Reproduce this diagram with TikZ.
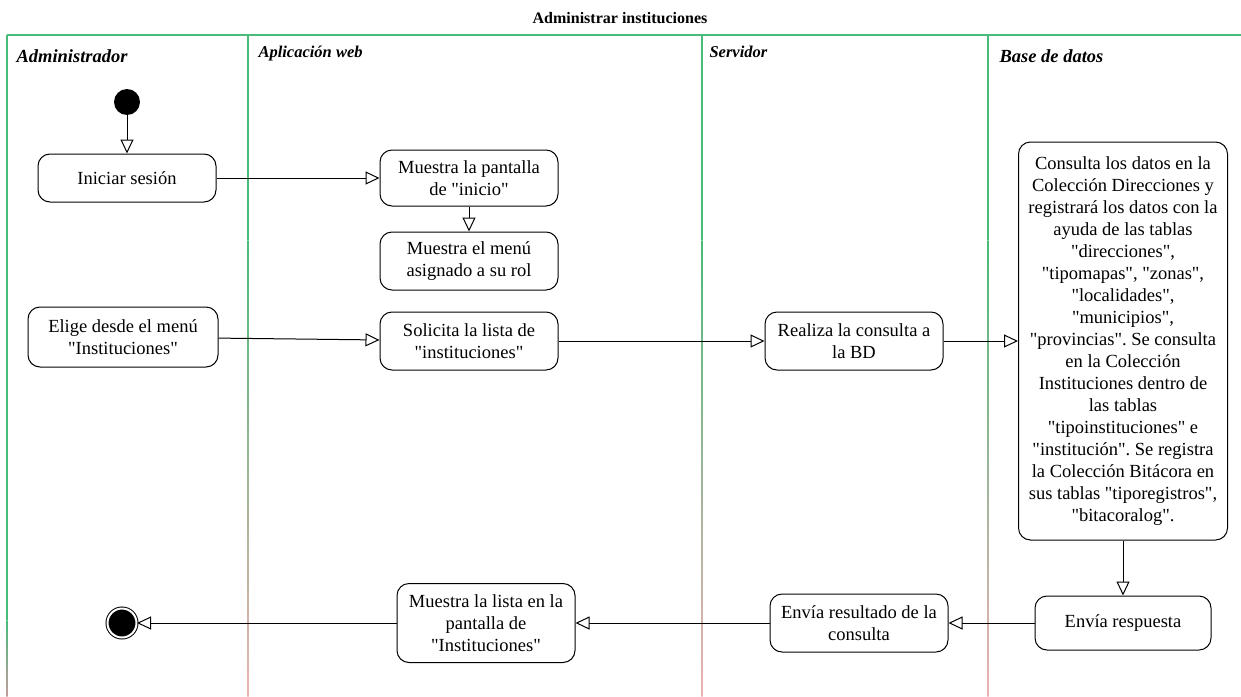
\documentclass[tikz,border=0pt]{standalone}
\usepackage{fontspec}
\setmainfont{Liberation Serif}[Ligatures=TeXOff]
\usetikzlibrary{arrows.meta}
\frenchspacing

\definecolor{lanegreen}{RGB}{72,186,122}
\definecolor{lanepink}{RGB}{236,178,178}

\tikzstyle{activity}=[draw, line width=1pt, rounded corners=12pt, align=center, minimum width=178pt, minimum height=58pt, inner sep=2pt, font=\fontsize{18.5}{22}\selectfont]
\tikzstyle{arrow}=[line width=1pt, -{Triangle[open, length=14pt, width=13pt]}]
\tikzstyle{lanebig}=[anchor=base west, font=\bfseries\itshape\fontsize{18.5}{22}\selectfont]
\tikzstyle{lanesmall}=[anchor=base west, font=\bfseries\itshape\fontsize{16.5}{19}\selectfont]

\begin{document}
\begin{tikzpicture}[x=1pt, y=-1pt]
  \useasboundingbox (0,0) rectangle (1241,696);

  % swimlanes
  \draw[lanegreen, line width=1.5pt] (7,35) -- (1241,35);
  \draw[lanegreen, line width=1.5pt] (7,35) -- (7,620);
  \shade[top color=lanegreen, bottom color=lanepink!60!gray] (6.3,620) rectangle (7.7,696);
  \foreach \x in {248, 702, 988} {
    \draw[lanegreen, line width=1.2pt] (\x,35) -- (\x,240);
    \shade[top color=lanegreen, bottom color=lanepink] (\x-0.6,240) rectangle (\x+0.6,696);
  }

  \node[font=\bfseries\fontsize{16}{19}\selectfont] (title) at (620,18) {Administrar instituciones};
  \node[lanebig] (admin) at (13,62) {Administrador};
  \node[lanesmall] (web) at (255,57) {Aplicación web};
  \node[lanesmall] (serv) at (706,57) {Servidor};
  \node[lanebig] (bd) at (996,62) {Base de datos};

  % activities
  \node[circle, fill=black, minimum size=26pt, inner sep=0pt] (start) at (127,102) {};
  \node[activity, minimum height=48pt] (ini) at (127,178) {Iniciar sesión};
  \node[activity, minimum height=56pt] (pant) at (469,178) {Muestra la pantalla\\de "inicio"};
  \node[activity] (menu) at (469,261) {Muestra el menú\\asignado a su rol};
  \node[activity, minimum width=190pt, minimum height=60pt] (elige) at (123,337) {Elige desde el menú\\"Instituciones"};
  \node[activity] (sol) at (469,341) {Solicita la lista de\\"instituciones"};
  \node[activity] (real) at (854,341) {Realiza la consulta a\\la BD};
  \node[activity, minimum width=209pt, minimum height=398pt] (cons) at (1123,341) {Consulta los datos en la\\Colección Direcciones y\\registrará los datos con la\\ayuda de las tablas\\"direcciones",\\"tipomapas", "zonas",\\"localidades",\\"municipios",\\"provincias". Se consulta\\en la Colección\\Instituciones dentro de\\las tablas\\"tipoinstituciones" e\\"institución". Se registra\\la Colección Bitácora en\\sus tablas "tiporegistros",\\"bitacoralog".};
  \node[activity, minimum width=176pt, minimum height=54pt] (resp) at (1123,623) {Envía respuesta};
  \node[activity] (resu) at (859,623) {Envía resultado de la\\consulta};
  \node[activity, minimum height=79pt] (lista) at (486,623) {Muestra la lista en la\\pantalla de\\"Instituciones"};
  \node[circle, draw, line width=1pt, fill=black, double=white, double distance=2pt, minimum size=29pt, inner sep=0pt] (final) at (122,623) {};

  % flows
  \draw[arrow] (start) -- (ini);
  \draw[arrow] (ini) -- (pant);
  \draw[arrow] (pant) -- (menu);
  \draw[arrow] (elige) -- (sol);
  \draw[arrow] (sol) -- (real);
  \draw[arrow] (real) -- (cons);
  \draw[arrow] (cons) -- (resp);
  \draw[arrow] (resp) -- (resu);
  \draw[arrow] (resu) -- (lista);
  \draw[arrow] (lista) -- (final);
\end{tikzpicture}
\end{document}
